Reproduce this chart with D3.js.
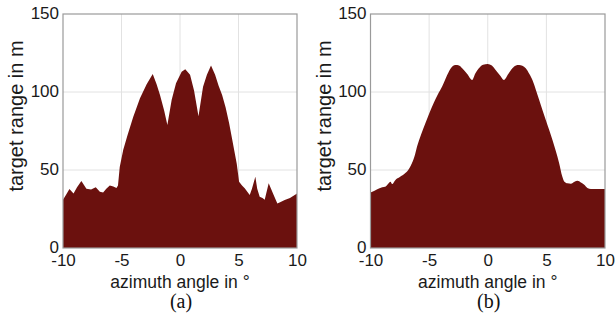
<!DOCTYPE html>
<html lang="en">
<head>
  <meta charset="UTF-8">
  <title>Target range vs azimuth</title>
  <style>
    body { margin: 0; background: #fff; }
    svg { display: block; }
    .tick text { font-family: "Liberation Sans", Arial, sans-serif; font-size: 17px; fill: #1a1a1a; }
    .axis-title { font-family: "Liberation Sans", Arial, sans-serif; fill: #1a1a1a; }
    .panel-tag { font-family: "Liberation Serif", "Times New Roman", serif; font-size: 20px; fill: #111; }
    .grid line { stroke: #e2e2e2; stroke-width: 1; }
    .frame { fill: none; stroke: #9a9a9a; stroke-width: 1.2; }
  </style>
</head>
<body>
  <div id="chart"></div>

  <script src="https://d3js.org/d3.v7.min.js"></script>
  <script>
    // values
    const xTicks = [-10, -5, 0, 5, 10];
    const yTicks = [0, 50, 100, 150];

    // panel (a)
    const azA = [-10, -9.75, -9.45, -9.1, -8.8, -8.43, -8.0, -7.6, -7.2, -6.85, -6.57, -6.3, -6.0, -5.7, -5.43, -5.3,
      -5.15, -4.85, -4.5, -4.0, -3.42, -2.85, -2.33, -2.0, -1.71, -1.35, -1.08, -0.71, -0.34, 0.14, 0.45,
      0.86, 1.2, 1.58, 1.97, 2.3, 2.65, 3.0, 3.3, 3.6, 3.9, 4.2, 4.45, 4.65, 4.85, 5.05,
      5.3, 5.53, 5.96, 6.15, 6.44, 6.6, 6.81, 7.05, 7.24, 7.58, 7.78, 7.95, 8.32, 8.6, 8.95, 9.4, 9.94, 10];
    const rangeA = [31, 34, 37.8, 35, 39, 43, 38, 37.5, 39, 36, 35.6, 38, 40, 39.5, 38.5, 40,
      52, 63, 72, 84, 96, 105, 111.5, 105, 98, 88, 78.8, 95, 105.6, 113, 114.6,
      111, 101, 84.5, 103.4, 111, 117, 111, 104, 98, 90, 80, 70, 62, 54, 42.5,
      40, 38.3, 34, 38, 45.7, 38, 32.9, 32, 31, 41.5, 38, 35, 28.6, 29.5, 30.8, 32, 34.6, 35];

    // panel (b)
    const azB = [-10, -9.7, -9.46, -9.0, -8.7, -8.45, -8.3, -8.15, -7.89, -7.5, -7.03, -6.7, -6.46, -6.2, -6.03,
      -5.7, -5.32, -4.95, -4.61, -4.25, -3.89, -3.6, -3.32, -3.0, -2.75, -2.45, -2.18, -1.75, -1.33,
      -1.05, -0.76, -0.4, 0, 0.35, 0.67, 1.05, 1.38, 1.75, 2.1, 2.4, 2.67, 2.95, 3.24, 3.55, 3.81,
      4.1, 4.38, 4.95, 5.52, 6.09, 6.35, 6.52, 6.8, 7.09, 7.4, 7.66, 7.95, 8.23, 8.5, 8.8, 9.3, 10];
    const rangeB = [35.6, 36.5, 37.5, 39, 39.5, 41.5, 42.5, 41, 43.5, 45.5, 48, 51, 54.5, 60, 65,
      72.5, 80, 87, 93, 98.5, 103.5, 108.5, 113, 116.5, 117.3, 117, 115.2, 111.5, 107.7,
      112, 115.2, 117.5, 118, 117, 114.1, 110.5, 107.7, 111.5, 115.2, 117, 117.3, 116.8, 115.2, 111.5, 107.7,
      101.5, 95, 82, 69.3, 54.4, 46, 42.7, 41.5, 41.2, 42.5, 43.1, 42, 40.5, 38.5, 37.8, 37.8, 37.8];

    const width = 616;
    const height = 323;
    const fillColor = "#6b110e";

    const svg = d3.select("#chart")
      .append("svg")
      .attr("width", width)
      .attr("height", height);

    const panels = [
      { az: azA, range: rangeA, left: 63, w: 234, tag: "(a)", curve: d3.curveLinear },
      { az: azB, range: rangeB, left: 370.5, w: 234.5, tag: "(b)", curve: d3.curveMonotoneX }
    ];
    const plotTop = 14, plotH = 234;
    // plain hyphen for negatives, like the original figure
    const fmt = d => String(d);

    panels.forEach(p => {
      const x = d3.scaleLinear().domain([-10, 10]).range([p.left, p.left + p.w]);
      const y = d3.scaleLinear().domain([0, 150]).range([plotTop + plotH, plotTop]);
      const g = svg.append("g");

      // grid
      const grid = g.append("g").attr("class", "grid");
      grid.selectAll("line.v")
        .data(xTicks.slice(1, -1))
        .join("line")
        .attr("class", "v")
        .attr("x1", d => x(d)).attr("x2", d => x(d))
        .attr("y1", plotTop).attr("y2", plotTop + plotH);
      grid.selectAll("line.h")
        .data(yTicks.slice(1, -1))
        .join("line")
        .attr("class", "h")
        .attr("x1", p.left).attr("x2", p.left + p.w)
        .attr("y1", d => y(d)).attr("y2", d => y(d));

      // filled area
      const pts = p.az.map((a, i) => [a, p.range[i]]);
      const area = d3.area()
        .x(d => x(d[0]))
        .y0(y(0))
        .y1(d => y(d[1]))
        .curve(p.curve);
      g.append("path")
        .datum(pts)
        .attr("d", area)
        .attr("fill", fillColor);

      // frame
      g.append("rect")
        .attr("class", "frame")
        .attr("x", p.left).attr("y", plotTop)
        .attr("width", p.w).attr("height", plotH);

      // axes
      const xAxis = d3.axisBottom(x).tickValues(xTicks).tickFormat(fmt).tickSize(0).tickPadding(6);
      g.append("g")
        .attr("transform", `translate(0,${plotTop + plotH})`)
        .call(xAxis)
        .call(s => s.select(".domain").remove())
        .selectAll("text").attr("dy", "0.71em");

      const yAxis = d3.axisLeft(y).tickValues(yTicks).tickFormat(fmt).tickSize(0).tickPadding(4);
      g.append("g")
        .attr("transform", `translate(${p.left},0)`)
        .call(yAxis)
        .call(s => s.select(".domain").remove())
        .selectAll("text").attr("dy", "0.24em");

      // titles
      g.append("text")
        .attr("class", "axis-title")
        .attr("x", p.left + p.w / 2)
        .attr("y", 288)
        .attr("text-anchor", "middle")
        .style("font-size", "17.5px")
        .text("azimuth angle in °");

      g.append("text")
        .attr("class", "axis-title")
        .attr("transform", `translate(${p.left - 40},116) rotate(-90)`)
        .attr("text-anchor", "middle")
        .style("font-size", "20px")
        .text("target range in m");

      g.append("text")
        .attr("class", "panel-tag")
        .attr("x", p.left + p.w / 2 + 1)
        .attr("y", 308)
        .attr("text-anchor", "middle")
        .text(p.tag);
    });
  </script>
</body>
</html>
